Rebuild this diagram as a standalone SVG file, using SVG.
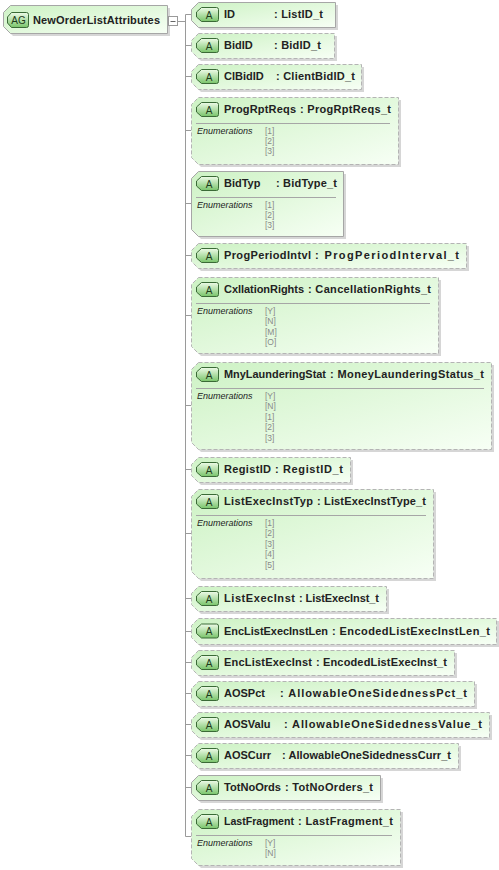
<svg xmlns="http://www.w3.org/2000/svg" width="499" height="870" viewBox="0 0 499 870">
<defs>
<linearGradient id="nf" x1="0" y1="0" x2="1" y2="1"><stop offset="0" stop-color="#cdf2c4"/><stop offset="1" stop-color="#f7fff5"/></linearGradient>
<linearGradient id="bf" x1="0" y1="0" x2="0" y2="1"><stop offset="0" stop-color="#eefbe8"/><stop offset="1" stop-color="#79c46a"/></linearGradient>
</defs>
<style>
.sh{fill:#d6d6d6;stroke:none}
.nd{fill:url(#nf);stroke:#a6a6a6;stroke-width:1}
.ds{stroke-dasharray:4 2;stroke:#b4b4b4}
.bd{fill:url(#bf);stroke:#3a6a36;stroke-width:1}
.bt{font-family:"Liberation Sans",Arial,sans-serif;font-size:10px;fill:#1d3a1a;text-anchor:middle}
.nm{font-family:"Liberation Sans",Arial,sans-serif;font-size:11px;font-weight:bold;fill:#222}
.en{font-family:"Liberation Sans",Arial,sans-serif;font-size:9px;font-style:italic;fill:#222}
.ev{font-family:"Liberation Sans",Arial,sans-serif;font-size:8.5px;fill:#8a8a8a}
.sep{stroke:#a6a6a6;stroke-width:1}
.cn{stroke:#9a9a9a;stroke-width:1;fill:none}
</style>

<g id="connectors">
<path class="cn" d="M177.5,21.5H185.5M185.5,14.5V836.5"/>
<path class="cn" d="M185.5,14.5H191M185.5,45.5H191M185.5,76.5H191M185.5,130.5H191M185.5,203.5H191M185.5,255.5H191M185.5,315.5H191M185.5,405.5H191M185.5,469.5H191M185.5,533.5H191M185.5,598.5H191M185.5,631.5H191M185.5,662.5H191M185.5,693.5H191M185.5,724.5H191M185.5,755.5H191M185.5,787.5H191M185.5,836.5H191"/>
</g>

<g id="root">
<path class="sh" d="M13,8H170V36H13L6,29V15Z"/>
<path class="nd" d="M10.5,5.5H167.5V33.5H10.5L3.5,26.5V12.5Z"/>
<path class="bd" d="M11.5,12.5H26.5a2,2 0 0 1 2,2V25.5a2,2 0 0 1 -2,2H11.5L7.5,23V17Z"/>
<text class="bt" x="18.5" y="24">AG</text>
<text class="nm" x="33" y="24" textLength="127" lengthAdjust="spacing">NewOrderListAttributes</text>
<rect x="168.5" y="16.5" width="9" height="9" fill="#fff" stroke="#9a9a9a"/>
<path d="M170.5,21.5H175.5" stroke="#666"/>
</g>

<g id="n1">
<path class="sh" d="M201,5H338V30H201L194,23V12Z"/>
<path class="nd" d="M198.5,2.5H335.5V27.5H198.5L191.5,20.5V9.5Z"/>
<path class="bd" d="M201.5,7.5H216.5a2,2 0 0 1 2,2V19.5a2,2 0 0 1 -2,2H201.5L196.5,17V12Z"/>
<text class="bt" x="209" y="18.5">A</text>
<text class="nm" x="224" y="18">ID</text>
<text class="nm" x="274" y="18" textLength="49" lengthAdjust="spacing">: ListID_t</text>
</g>

<g id="n2">
<path class="sh" d="M201,36H337V61H201L194,54V43Z"/>
<path class="nd ds" d="M198.5,33.5H334.5V58.5H198.5L191.5,51.5V40.5Z"/>
<path class="bd" d="M201.5,38.5H216.5a2,2 0 0 1 2,2V50.5a2,2 0 0 1 -2,2H201.5L196.5,48V43Z"/>
<text class="bt" x="209" y="49.5">A</text>
<text class="nm" x="224" y="49">BidID</text>
<text class="nm" x="274" y="49" textLength="47" lengthAdjust="spacing">: BidID_t</text>
</g>

<g id="n3">
<path class="sh" d="M201,67H364V92H201L194,85V74Z"/>
<path class="nd ds" d="M198.5,64.5H361.5V89.5H198.5L191.5,82.5V71.5Z"/>
<path class="bd" d="M201.5,69.5H216.5a2,2 0 0 1 2,2V81.5a2,2 0 0 1 -2,2H201.5L196.5,79V74Z"/>
<text class="bt" x="209" y="80.5">A</text>
<text class="nm" x="224" y="80">ClBidID</text>
<text class="nm" x="276" y="80" textLength="79" lengthAdjust="spacing">: ClientBidID_t</text>
</g>

<g id="n4">
<path class="sh" d="M201,100H401V167H201L194,160V107Z"/>
<path class="nd ds" d="M198.5,97.5H398.5V164.5H198.5L191.5,157.5V104.5Z"/>
<path class="bd" d="M201.5,102.5H216.5a2,2 0 0 1 2,2V114.5a2,2 0 0 1 -2,2H201.5L196.5,112V107Z"/>
<text class="bt" x="209" y="113.5">A</text>
<text class="nm" x="224" y="113" textLength="72" lengthAdjust="spacing">ProgRptReqs</text>
<text class="nm" x="300" y="113" textLength="91" lengthAdjust="spacing">: ProgRptReqs_t</text>
<path class="sep" d="M196,123.5H390"/>
<text class="en" x="197" y="134">Enumerations</text>
<text class="ev" x="265" y="134">[1]</text>
<text class="ev" x="265" y="144">[2]</text>
<text class="ev" x="265" y="154">[3]</text>
</g>

<g id="n5">
<path class="sh" d="M201,174H346V239H201L194,232V181Z"/>
<path class="nd" d="M198.5,171.5H343.5V236.5H198.5L191.5,229.5V178.5Z"/>
<path class="bd" d="M201.5,176.5H216.5a2,2 0 0 1 2,2V188.5a2,2 0 0 1 -2,2H201.5L196.5,186V181Z"/>
<text class="bt" x="209" y="187.5">A</text>
<text class="nm" x="224" y="187">BidTyp</text>
<text class="nm" x="276" y="187" textLength="61" lengthAdjust="spacing">: BidType_t</text>
<path class="sep" d="M196,197.5H336"/>
<text class="en" x="197" y="208">Enumerations</text>
<text class="ev" x="265" y="208">[1]</text>
<text class="ev" x="265" y="218">[2]</text>
<text class="ev" x="265" y="228">[3]</text>
</g>

<g id="n6">
<path class="sh" d="M201,246H469V271H201L194,264V253Z"/>
<path class="nd ds" d="M198.5,243.5H466.5V268.5H198.5L191.5,261.5V250.5Z"/>
<path class="bd" d="M201.5,248.5H216.5a2,2 0 0 1 2,2V260.5a2,2 0 0 1 -2,2H201.5L196.5,258V253Z"/>
<text class="bt" x="209" y="259.5">A</text>
<text class="nm" x="224" y="259" textLength="87" lengthAdjust="spacing">ProgPeriodIntvl</text>
<text class="nm" x="315" y="259" textLength="144" lengthAdjust="spacing">: ProgPeriodInterval_t</text>
</g>

<g id="n7">
<path class="sh" d="M201,280H441V356H201L194,349V287Z"/>
<path class="nd ds" d="M198.5,277.5H438.5V353.5H198.5L191.5,346.5V284.5Z"/>
<path class="bd" d="M201.5,282.5H216.5a2,2 0 0 1 2,2V294.5a2,2 0 0 1 -2,2H201.5L196.5,292V287Z"/>
<text class="bt" x="209" y="293.5">A</text>
<text class="nm" x="224" y="293" textLength="80" lengthAdjust="spacing">CxllationRights</text>
<text class="nm" x="308" y="293" textLength="123" lengthAdjust="spacing">: CancellationRights_t</text>
<path class="sep" d="M196,303.5H430"/>
<text class="en" x="197" y="314">Enumerations</text>
<text class="ev" x="265" y="314">[Y]</text>
<text class="ev" x="265" y="324">[N]</text>
<text class="ev" x="265" y="334.5">[M]</text>
<text class="ev" x="265" y="345">[O]</text>
</g>

<g id="n8">
<path class="sh" d="M201,365H494V452H201L194,445V372Z"/>
<path class="nd ds" d="M198.5,362.5H491.5V449.5H198.5L191.5,442.5V369.5Z"/>
<path class="bd" d="M201.5,367.5H216.5a2,2 0 0 1 2,2V379.5a2,2 0 0 1 -2,2H201.5L196.5,377V372Z"/>
<text class="bt" x="209" y="378.5">A</text>
<text class="nm" x="224" y="378" textLength="102" lengthAdjust="spacingAndGlyphs">MnyLaunderingStat</text>
<text class="nm" x="330" y="378" textLength="154" lengthAdjust="spacing">: MoneyLaunderingStatus_t</text>
<path class="sep" d="M196,388.5H484"/>
<text class="en" x="197" y="399">Enumerations</text>
<text class="ev" x="265" y="399">[Y]</text>
<text class="ev" x="265" y="409">[N]</text>
<text class="ev" x="265" y="419.5">[1]</text>
<text class="ev" x="265" y="430">[2]</text>
<text class="ev" x="265" y="440.5">[3]</text>
</g>

<g id="n9">
<path class="sh" d="M201,460H353V485H201L194,478V467Z"/>
<path class="nd ds" d="M198.5,457.5H350.5V482.5H198.5L191.5,475.5V464.5Z"/>
<path class="bd" d="M201.5,462.5H216.5a2,2 0 0 1 2,2V474.5a2,2 0 0 1 -2,2H201.5L196.5,472V467Z"/>
<text class="bt" x="209" y="473.5">A</text>
<text class="nm" x="224" y="473" textLength="47" lengthAdjust="spacing">RegistID</text>
<text class="nm" x="275" y="473" textLength="68" lengthAdjust="spacing">: RegistID_t</text>
</g>

<g id="n10">
<path class="sh" d="M201,492H436V581H201L194,574V499Z"/>
<path class="nd ds" d="M198.5,489.5H433.5V578.5H198.5L191.5,571.5V496.5Z"/>
<path class="bd" d="M201.5,494.5H216.5a2,2 0 0 1 2,2V506.5a2,2 0 0 1 -2,2H201.5L196.5,504V499Z"/>
<text class="bt" x="209" y="505.5">A</text>
<text class="nm" x="224" y="505" textLength="89" lengthAdjust="spacing">ListExecInstTyp</text>
<text class="nm" x="317" y="505" textLength="109" lengthAdjust="spacing">: ListExecInstType_t</text>
<path class="sep" d="M196,515.5H426"/>
<text class="en" x="197" y="526">Enumerations</text>
<text class="ev" x="265" y="526">[1]</text>
<text class="ev" x="265" y="536">[2]</text>
<text class="ev" x="265" y="546.5">[3]</text>
<text class="ev" x="265" y="557">[4]</text>
<text class="ev" x="265" y="567.5">[5]</text>
</g>

<g id="n11">
<path class="sh" d="M201,589H389V614H201L194,607V596Z"/>
<path class="nd ds" d="M198.5,586.5H386.5V611.5H198.5L191.5,604.5V593.5Z"/>
<path class="bd" d="M201.5,591.5H216.5a2,2 0 0 1 2,2V603.5a2,2 0 0 1 -2,2H201.5L196.5,601V596Z"/>
<text class="bt" x="209" y="602.5">A</text>
<text class="nm" x="224" y="602" textLength="71" lengthAdjust="spacing">ListExecInst</text>
<text class="nm" x="299" y="602" textLength="80" lengthAdjust="spacing">: ListExecInst_t</text>
</g>

<g id="n12">
<path class="sh" d="M201,621H499V647H201L194,640V628Z"/>
<path class="nd ds" d="M198.5,618.5H496.5V644.5H198.5L191.5,637.5V625.5Z"/>
<path class="bd" d="M201.5,624H216.5a2,2 0 0 1 2,2V636a2,2 0 0 1 -2,2H201.5L196.5,633.5V628.5Z"/>
<text class="bt" x="209" y="635">A</text>
<text class="nm" x="224" y="634.5" textLength="104" lengthAdjust="spacingAndGlyphs">EncListExecInstLen</text>
<text class="nm" x="332" y="634.5" textLength="158" lengthAdjust="spacing">: EncodedListExecInstLen_t</text>
</g>

<g id="n13">
<path class="sh" d="M201,653H457V678H201L194,671V660Z"/>
<path class="nd ds" d="M198.5,650.5H454.5V675.5H198.5L191.5,668.5V657.5Z"/>
<path class="bd" d="M201.5,655.5H216.5a2,2 0 0 1 2,2V667.5a2,2 0 0 1 -2,2H201.5L196.5,665V660Z"/>
<text class="bt" x="209" y="666.5">A</text>
<text class="nm" x="224" y="666" textLength="88" lengthAdjust="spacing">EncListExecInst</text>
<text class="nm" x="316" y="666" textLength="131" lengthAdjust="spacing">: EncodedListExecInst_t</text>
</g>

<g id="n14">
<path class="sh" d="M201,684H477V709H201L194,702V691Z"/>
<path class="nd ds" d="M198.5,681.5H474.5V706.5H198.5L191.5,699.5V688.5Z"/>
<path class="bd" d="M201.5,686.5H216.5a2,2 0 0 1 2,2V698.5a2,2 0 0 1 -2,2H201.5L196.5,696V691Z"/>
<text class="bt" x="209" y="697.5">A</text>
<text class="nm" x="224" y="697">AOSPct</text>
<text class="nm" x="280" y="697" textLength="187" lengthAdjust="spacing">: AllowableOneSidednessPct_t</text>
</g>

<g id="n15">
<path class="sh" d="M201,715H492V740H201L194,733V722Z"/>
<path class="nd ds" d="M198.5,712.5H489.5V737.5H198.5L191.5,730.5V719.5Z"/>
<path class="bd" d="M201.5,717.5H216.5a2,2 0 0 1 2,2V729.5a2,2 0 0 1 -2,2H201.5L196.5,727V722Z"/>
<text class="bt" x="209" y="728.5">A</text>
<text class="nm" x="224" y="728">AOSValu</text>
<text class="nm" x="284" y="728" textLength="198" lengthAdjust="spacing">: AllowableOneSidednessValue_t</text>
</g>

<g id="n16">
<path class="sh" d="M201,746H461V771H201L194,764V753Z"/>
<path class="nd ds" d="M198.5,743.5H458.5V768.5H198.5L191.5,761.5V750.5Z"/>
<path class="bd" d="M201.5,748.5H216.5a2,2 0 0 1 2,2V760.5a2,2 0 0 1 -2,2H201.5L196.5,758V753Z"/>
<text class="bt" x="209" y="759.5">A</text>
<text class="nm" x="224" y="759">AOSCurr</text>
<text class="nm" x="282" y="759" textLength="169" lengthAdjust="spacing">: AllowableOneSidednessCurr_t</text>
</g>

<g id="n17">
<path class="sh" d="M201,778H383V803H201L194,796V785Z"/>
<path class="nd" d="M198.5,775.5H380.5V800.5H198.5L191.5,793.5V782.5Z"/>
<path class="bd" d="M201.5,780.5H216.5a2,2 0 0 1 2,2V792.5a2,2 0 0 1 -2,2H201.5L196.5,790V785Z"/>
<text class="bt" x="209" y="791.5">A</text>
<text class="nm" x="224" y="791" textLength="57" lengthAdjust="spacingAndGlyphs">TotNoOrds</text>
<text class="nm" x="285" y="791" textLength="88" lengthAdjust="spacing">: TotNoOrders_t</text>
</g>

<g id="n18">
<path class="sh" d="M201,812H403V868H201L194,861V819Z"/>
<path class="nd ds" d="M198.5,809.5H400.5V865.5H198.5L191.5,858.5V816.5Z"/>
<path class="bd" d="M201.5,814.5H216.5a2,2 0 0 1 2,2V826.5a2,2 0 0 1 -2,2H201.5L196.5,824V819Z"/>
<text class="bt" x="209" y="825.5">A</text>
<text class="nm" x="224" y="825" textLength="70" lengthAdjust="spacingAndGlyphs">LastFragment</text>
<text class="nm" x="298" y="825" textLength="95" lengthAdjust="spacing">: LastFragment_t</text>
<path class="sep" d="M196,835.5H392"/>
<text class="en" x="197" y="846">Enumerations</text>
<text class="ev" x="265" y="846">[Y]</text>
<text class="ev" x="265" y="856">[N]</text>
</g>
</svg>
